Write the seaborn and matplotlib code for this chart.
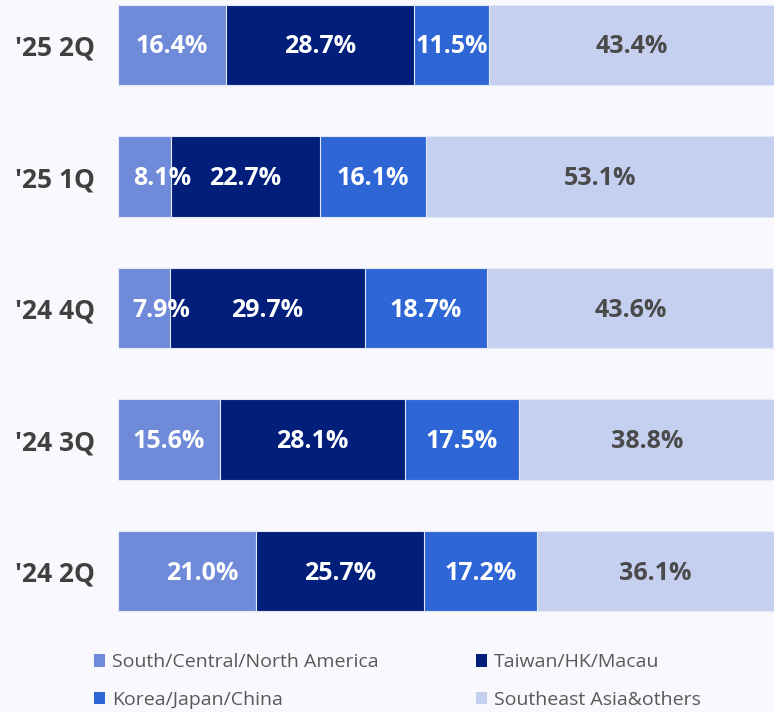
import numpy as np
import pandas as pd
import matplotlib
matplotlib.use("Agg")
import matplotlib.pyplot as plt
import seaborn as sns
from matplotlib.patches import Patch

quarters = ["'25 2Q", "'25 1Q", "'24 4Q", "'24 3Q", "'24 2Q"]
regions = ["South/Central/North America", "Taiwan/HK/Macau", "Korea/Japan/China", "Southeast Asia&others"]
americas = [16.4, 8.1, 7.9, 15.6, 21.0]
taiwan = [28.7, 22.7, 29.7, 28.1, 25.7]
korea = [11.5, 16.1, 18.7, 17.5, 17.2]
sea = [43.4, 53.1, 43.6, 38.8, 36.1]
colors = ["#6F8AD8", "#001E7A", "#2E66D6", "#C5D0F0"]
text_colors = ["white", "white", "white", "#4A4A4A"]
# small label nudges (in % units) for the narrow first segments
nudge = {(1, 0): 2.7, (2, 0): 2.7, (4, 0): 2.4}

bg = "#F8F8FD"
sns.set_style("white")
plt.rcParams["font.family"] = ["Open Sans", "DejaVu Sans"]

df = pd.DataFrame({"quarter": quarters, regions[0]: americas, regions[1]: taiwan,
                   regions[2]: korea, regions[3]: sea})
vals = df[regions].to_numpy()
cum = vals.cumsum(axis=1)

fig = plt.figure(figsize=(7.74, 7.12), dpi=100, facecolor=bg)
ax = fig.add_axes([118 / 774, 1 - 625 / 712, 1 - 118 / 774, 625 / 712])
ax.set_facecolor(bg)

# stacked bars: draw cumulative totals from the largest down
for i in range(len(regions) - 1, -1, -1):
    tmp = pd.DataFrame({"quarter": quarters, "x": cum[:, i]})
    sns.barplot(data=tmp, x="x", y="quarter", order=quarters, color=colors[i],
                orient="h", width=0.61, ax=ax, edgecolor="#E4E9F7", linewidth=0.8,
                saturation=1)

for r in range(len(quarters)):
    for i in range(len(regions)):
        start = cum[r, i] - vals[r, i]
        x = start + vals[r, i] / 2 + nudge.get((r, i), 0)
        ax.text(x, r + 0.015, f"{vals[r, i]:.1f}%", ha="center", va="center",
                color=text_colors[i], fontsize=18, fontweight="bold")

ax.set_xlim(0, 100)
ax.set_ylim(4.41, -0.342)
ax.set_xlabel("")
ax.set_ylabel("")
ax.set_xticks([])
ax.tick_params(axis="y", length=0, pad=16.5)
for lab in ax.get_yticklabels():
    lab.set_fontsize(19)
    lab.set_fontweight("bold")
    lab.set_color("#404040")
sns.despine(ax=ax, left=True, bottom=True)

order = [0, 2, 1, 3]
handles = [Patch(facecolor=colors[i], edgecolor="none") for i in order]
labels = [regions[i] for i in order]
fig.legend(handles, labels, loc="lower left", bbox_to_anchor=(76 / 774, -0.02), ncol=2,
           frameon=False, fontsize=14, labelcolor="#595959", handlelength=0.6,
           handleheight=0.6, handletextpad=0.35, columnspacing=5.0, labelspacing=1.0)

fig.savefig("out.png", dpi=100, facecolor=bg)
